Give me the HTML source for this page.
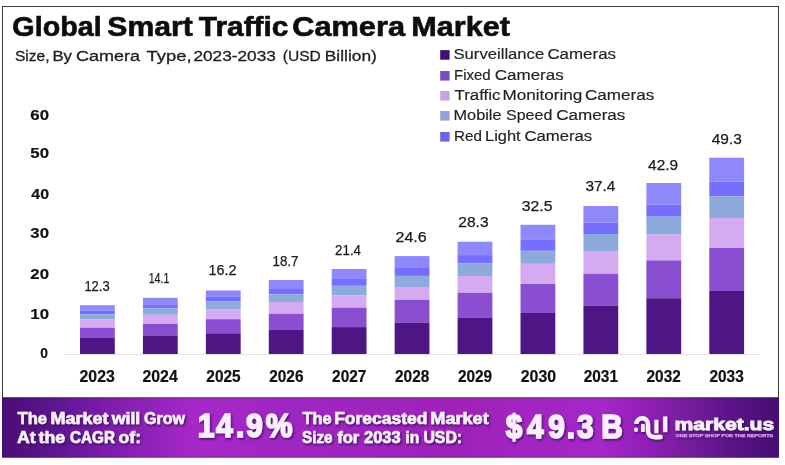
<!DOCTYPE html>
<html><head><meta charset="utf-8"><title>Global Smart Traffic Camera Market</title>
<style>
html,body{margin:0;padding:0;background:#fff;}
body{width:785px;height:465px;overflow:hidden;}
svg{display:block;}
text{font-family:"Liberation Sans", Arial, sans-serif;}
</style></head><body>
<svg width="785" height="465" viewBox="0 0 785 465">
<rect x="0" y="0" width="785" height="465" fill="#ffffff"/>
<rect x="2" y="6" width="777" height="1" fill="#3c3c3c"/>
<rect x="2" y="6" width="1" height="392" fill="#3c3c3c"/>
<rect x="778" y="6" width="1" height="392" fill="#3c3c3c"/>
<rect x="440.2" y="50.1" width="9.4" height="9.6" fill="#3d1272"/>
<rect x="440.2" y="71.0" width="9.4" height="9.6" fill="#7a4cc4"/>
<rect x="440.2" y="91.0" width="9.4" height="9.6" fill="#c4a4e4"/>
<rect x="440.2" y="111.0" width="9.4" height="9.6" fill="#92a2d8"/>
<rect x="440.2" y="132.0" width="9.4" height="9.6" fill="#6e62ec"/>
<rect x="64" y="354" width="696" height="1" fill="#e2e2e2"/>
<rect x="80.00" y="305.20" width="34.8" height="5.40" fill="#8e88fa"/>
<rect x="80.00" y="310.60" width="34.8" height="3.80" fill="#766efc"/>
<rect x="80.00" y="314.40" width="34.8" height="4.90" fill="#8eaadc"/>
<rect x="80.00" y="319.30" width="34.8" height="8.40" fill="#d4aaf0"/>
<rect x="80.00" y="327.70" width="34.8" height="10.30" fill="#8a4ed0"/>
<rect x="80.00" y="338.00" width="34.8" height="16.00" fill="#4e1684"/>
<rect x="142.93" y="297.80" width="34.8" height="6.50" fill="#8e88fa"/>
<rect x="142.93" y="304.30" width="34.8" height="4.10" fill="#766efc"/>
<rect x="142.93" y="308.40" width="34.8" height="6.40" fill="#8eaadc"/>
<rect x="142.93" y="314.80" width="34.8" height="9.10" fill="#d4aaf0"/>
<rect x="142.93" y="323.90" width="34.8" height="12.00" fill="#8a4ed0"/>
<rect x="142.93" y="335.90" width="34.8" height="18.10" fill="#4e1684"/>
<rect x="205.86" y="290.50" width="34.8" height="5.80" fill="#8e88fa"/>
<rect x="205.86" y="296.30" width="34.8" height="5.20" fill="#766efc"/>
<rect x="205.86" y="301.50" width="34.8" height="7.70" fill="#8eaadc"/>
<rect x="205.86" y="309.20" width="34.8" height="10.00" fill="#d4aaf0"/>
<rect x="205.86" y="319.20" width="34.8" height="14.10" fill="#8a4ed0"/>
<rect x="205.86" y="333.30" width="34.8" height="20.70" fill="#4e1684"/>
<rect x="268.79" y="280.00" width="34.8" height="9.00" fill="#8e88fa"/>
<rect x="268.79" y="289.00" width="34.8" height="5.40" fill="#766efc"/>
<rect x="268.79" y="294.40" width="34.8" height="7.60" fill="#8eaadc"/>
<rect x="268.79" y="302.00" width="34.8" height="11.80" fill="#d4aaf0"/>
<rect x="268.79" y="313.80" width="34.8" height="16.10" fill="#8a4ed0"/>
<rect x="268.79" y="329.90" width="34.8" height="24.10" fill="#4e1684"/>
<rect x="331.72" y="269.00" width="34.8" height="9.30" fill="#8e88fa"/>
<rect x="331.72" y="278.30" width="34.8" height="7.50" fill="#766efc"/>
<rect x="331.72" y="285.80" width="34.8" height="9.70" fill="#8eaadc"/>
<rect x="331.72" y="295.50" width="34.8" height="12.20" fill="#d4aaf0"/>
<rect x="331.72" y="307.70" width="34.8" height="19.40" fill="#8a4ed0"/>
<rect x="331.72" y="327.10" width="34.8" height="26.90" fill="#4e1684"/>
<rect x="394.65" y="256.10" width="34.8" height="11.10" fill="#8e88fa"/>
<rect x="394.65" y="267.20" width="34.8" height="8.70" fill="#766efc"/>
<rect x="394.65" y="275.90" width="34.8" height="11.10" fill="#8eaadc"/>
<rect x="394.65" y="287.00" width="34.8" height="12.80" fill="#d4aaf0"/>
<rect x="394.65" y="299.80" width="34.8" height="23.00" fill="#8a4ed0"/>
<rect x="394.65" y="322.80" width="34.8" height="31.20" fill="#4e1684"/>
<rect x="457.58" y="241.70" width="34.8" height="13.40" fill="#8e88fa"/>
<rect x="457.58" y="255.10" width="34.8" height="8.40" fill="#766efc"/>
<rect x="457.58" y="263.50" width="34.8" height="12.50" fill="#8eaadc"/>
<rect x="457.58" y="276.00" width="34.8" height="16.80" fill="#d4aaf0"/>
<rect x="457.58" y="292.80" width="34.8" height="25.10" fill="#8a4ed0"/>
<rect x="457.58" y="317.90" width="34.8" height="36.10" fill="#4e1684"/>
<rect x="520.51" y="224.80" width="34.8" height="15.10" fill="#8e88fa"/>
<rect x="520.51" y="239.90" width="34.8" height="10.90" fill="#766efc"/>
<rect x="520.51" y="250.80" width="34.8" height="13.00" fill="#8eaadc"/>
<rect x="520.51" y="263.80" width="34.8" height="20.20" fill="#d4aaf0"/>
<rect x="520.51" y="284.00" width="34.8" height="29.00" fill="#8a4ed0"/>
<rect x="520.51" y="313.00" width="34.8" height="41.00" fill="#4e1684"/>
<rect x="583.44" y="206.00" width="34.8" height="16.70" fill="#8e88fa"/>
<rect x="583.44" y="222.70" width="34.8" height="11.30" fill="#766efc"/>
<rect x="583.44" y="234.00" width="34.8" height="17.00" fill="#8eaadc"/>
<rect x="583.44" y="251.00" width="34.8" height="22.80" fill="#d4aaf0"/>
<rect x="583.44" y="273.80" width="34.8" height="32.00" fill="#8a4ed0"/>
<rect x="583.44" y="305.80" width="34.8" height="48.20" fill="#4e1684"/>
<rect x="646.37" y="183.00" width="34.8" height="21.80" fill="#8e88fa"/>
<rect x="646.37" y="204.80" width="34.8" height="11.90" fill="#766efc"/>
<rect x="646.37" y="216.70" width="34.8" height="17.90" fill="#8eaadc"/>
<rect x="646.37" y="234.60" width="34.8" height="25.80" fill="#d4aaf0"/>
<rect x="646.37" y="260.40" width="34.8" height="37.80" fill="#8a4ed0"/>
<rect x="646.37" y="298.20" width="34.8" height="55.80" fill="#4e1684"/>
<rect x="709.30" y="157.70" width="34.8" height="24.10" fill="#8e88fa"/>
<rect x="709.30" y="181.80" width="34.8" height="14.70" fill="#766efc"/>
<rect x="709.30" y="196.50" width="34.8" height="21.50" fill="#8eaadc"/>
<rect x="709.30" y="218.00" width="34.8" height="30.00" fill="#d4aaf0"/>
<rect x="709.30" y="248.00" width="34.8" height="43.00" fill="#8a4ed0"/>
<rect x="709.30" y="291.00" width="34.8" height="63.00" fill="#4e1684"/>
<text x="12.30" y="35.50" font-size="26.80" font-weight="bold" textLength="89.40" lengthAdjust="spacingAndGlyphs" fill="#0d0d0d" stroke="#0d0d0d" stroke-width="0.6">Global</text>
<text x="107.30" y="35.50" font-size="26.80" font-weight="bold" textLength="85.50" lengthAdjust="spacingAndGlyphs" fill="#0d0d0d" stroke="#0d0d0d" stroke-width="0.6">Smart</text>
<text x="198.80" y="35.50" font-size="26.80" font-weight="bold" textLength="89.70" lengthAdjust="spacingAndGlyphs" fill="#0d0d0d" stroke="#0d0d0d" stroke-width="0.6">Traffic</text>
<text x="292.30" y="35.50" font-size="26.80" font-weight="bold" textLength="112.70" lengthAdjust="spacingAndGlyphs" fill="#0d0d0d" stroke="#0d0d0d" stroke-width="0.6">Camera</text>
<text x="411.20" y="35.50" font-size="26.80" font-weight="bold" textLength="98.70" lengthAdjust="spacingAndGlyphs" fill="#0d0d0d" stroke="#0d0d0d" stroke-width="0.6">Market</text>
<text x="14.90" y="61.00" font-size="15.20" textLength="34.70" lengthAdjust="spacingAndGlyphs" fill="#1e1e1e" stroke="#1e1e1e" stroke-width="0.3">Size,</text>
<text x="52.40" y="61.00" font-size="15.20" textLength="19.60" lengthAdjust="spacingAndGlyphs" fill="#1e1e1e" stroke="#1e1e1e" stroke-width="0.3">By</text>
<text x="76.00" y="61.00" font-size="15.20" textLength="64.00" lengthAdjust="spacingAndGlyphs" fill="#1e1e1e" stroke="#1e1e1e" stroke-width="0.3">Camera</text>
<text x="146.60" y="61.00" font-size="15.20" textLength="45.00" lengthAdjust="spacingAndGlyphs" fill="#1e1e1e" stroke="#1e1e1e" stroke-width="0.3">Type,</text>
<text x="193.40" y="61.00" font-size="15.20" textLength="82.50" lengthAdjust="spacingAndGlyphs" fill="#1e1e1e" stroke="#1e1e1e" stroke-width="0.3">2023-2033</text>
<text x="282.80" y="61.00" font-size="15.20" textLength="38.00" lengthAdjust="spacingAndGlyphs" fill="#1e1e1e" stroke="#1e1e1e" stroke-width="0.3">(USD</text>
<text x="324.80" y="61.00" font-size="15.20" textLength="52.00" lengthAdjust="spacingAndGlyphs" fill="#1e1e1e" stroke="#1e1e1e" stroke-width="0.3">Billion)</text>
<text x="453.50" y="59.30" font-size="14.90" textLength="90.70" lengthAdjust="spacingAndGlyphs" fill="#222" stroke="#222" stroke-width="0.15">Surveillance</text>
<text x="547.40" y="59.30" font-size="14.90" textLength="68.60" lengthAdjust="spacingAndGlyphs" fill="#222" stroke="#222" stroke-width="0.15">Cameras</text>
<text x="454.00" y="80.20" font-size="14.90" textLength="36.70" lengthAdjust="spacingAndGlyphs" fill="#222" stroke="#222" stroke-width="0.15">Fixed</text>
<text x="494.80" y="80.20" font-size="14.90" textLength="68.90" lengthAdjust="spacingAndGlyphs" fill="#222" stroke="#222" stroke-width="0.15">Cameras</text>
<text x="454.50" y="100.20" font-size="14.90" textLength="46.00" lengthAdjust="spacingAndGlyphs" fill="#222" stroke="#222" stroke-width="0.15">Traffic</text>
<text x="502.50" y="100.20" font-size="14.90" textLength="79.90" lengthAdjust="spacingAndGlyphs" fill="#222" stroke="#222" stroke-width="0.15">Monitoring</text>
<text x="584.90" y="100.20" font-size="14.90" textLength="69.30" lengthAdjust="spacingAndGlyphs" fill="#222" stroke="#222" stroke-width="0.15">Cameras</text>
<text x="453.50" y="120.20" font-size="14.90" textLength="48.00" lengthAdjust="spacingAndGlyphs" fill="#222" stroke="#222" stroke-width="0.15">Mobile</text>
<text x="506.00" y="120.20" font-size="14.90" textLength="46.30" lengthAdjust="spacingAndGlyphs" fill="#222" stroke="#222" stroke-width="0.15">Speed</text>
<text x="556.20" y="120.20" font-size="14.90" textLength="69.20" lengthAdjust="spacingAndGlyphs" fill="#222" stroke="#222" stroke-width="0.15">Cameras</text>
<text x="454.10" y="141.20" font-size="14.90" textLength="27.90" lengthAdjust="spacingAndGlyphs" fill="#222" stroke="#222" stroke-width="0.15">Red</text>
<text x="485.10" y="141.20" font-size="14.90" textLength="35.60" lengthAdjust="spacingAndGlyphs" fill="#222" stroke="#222" stroke-width="0.15">Light</text>
<text x="524.50" y="141.20" font-size="14.90" textLength="67.70" lengthAdjust="spacingAndGlyphs" fill="#222" stroke="#222" stroke-width="0.15">Cameras</text>
<text x="30.30" y="119.70" font-size="15.40" font-weight="bold" textLength="18.70" lengthAdjust="spacingAndGlyphs" fill="#111" stroke="#111" stroke-width="0.2">60</text>
<text x="30.30" y="158.30" font-size="15.40" font-weight="bold" textLength="18.70" lengthAdjust="spacingAndGlyphs" fill="#111" stroke="#111" stroke-width="0.2">50</text>
<text x="31.30" y="198.50" font-size="15.40" font-weight="bold" textLength="17.70" lengthAdjust="spacingAndGlyphs" fill="#111" stroke="#111" stroke-width="0.2">40</text>
<text x="30.30" y="238.30" font-size="15.40" font-weight="bold" textLength="18.70" lengthAdjust="spacingAndGlyphs" fill="#111" stroke="#111" stroke-width="0.2">30</text>
<text x="30.30" y="279.20" font-size="15.40" font-weight="bold" textLength="18.70" lengthAdjust="spacingAndGlyphs" fill="#111" stroke="#111" stroke-width="0.2">20</text>
<text x="30.30" y="319.00" font-size="15.40" font-weight="bold" textLength="18.70" lengthAdjust="spacingAndGlyphs" fill="#111" stroke="#111" stroke-width="0.2">10</text>
<text x="40.30" y="357.70" font-size="15.40" font-weight="bold" textLength="7.70" lengthAdjust="spacingAndGlyphs" fill="#111" stroke="#111" stroke-width="0.2">0</text>
<text x="84.40" y="290.70" font-size="15.40" textLength="25.20" lengthAdjust="spacingAndGlyphs" fill="#1a1a1a" stroke="#1a1a1a" stroke-width="0.25">12.3</text>
<text x="148.70" y="283.40" font-size="15.40" textLength="20.70" lengthAdjust="spacingAndGlyphs" fill="#1a1a1a" stroke="#1a1a1a" stroke-width="0.25">14.1</text>
<text x="208.50" y="274.70" font-size="15.40" textLength="28.00" lengthAdjust="spacingAndGlyphs" fill="#1a1a1a" stroke="#1a1a1a" stroke-width="0.25">16.2</text>
<text x="272.50" y="265.70" font-size="15.40" textLength="26.00" lengthAdjust="spacingAndGlyphs" fill="#1a1a1a" stroke="#1a1a1a" stroke-width="0.25">18.7</text>
<text x="335.10" y="255.30" font-size="15.40" textLength="25.90" lengthAdjust="spacingAndGlyphs" fill="#1a1a1a" stroke="#1a1a1a" stroke-width="0.25">21.4</text>
<text x="395.50" y="242.00" font-size="15.40" textLength="31.20" lengthAdjust="spacingAndGlyphs" fill="#1a1a1a" stroke="#1a1a1a" stroke-width="0.25">24.6</text>
<text x="458.30" y="227.10" font-size="15.40" textLength="30.30" lengthAdjust="spacingAndGlyphs" fill="#1a1a1a" stroke="#1a1a1a" stroke-width="0.25">28.3</text>
<text x="521.80" y="210.60" font-size="15.40" textLength="30.70" lengthAdjust="spacingAndGlyphs" fill="#1a1a1a" stroke="#1a1a1a" stroke-width="0.25">32.5</text>
<text x="585.40" y="190.80" font-size="15.40" textLength="30.00" lengthAdjust="spacingAndGlyphs" fill="#1a1a1a" stroke="#1a1a1a" stroke-width="0.25">37.4</text>
<text x="648.10" y="169.60" font-size="15.40" textLength="30.00" lengthAdjust="spacingAndGlyphs" fill="#1a1a1a" stroke="#1a1a1a" stroke-width="0.25">42.9</text>
<text x="711.80" y="144.20" font-size="15.40" textLength="30.00" lengthAdjust="spacingAndGlyphs" fill="#1a1a1a" stroke="#1a1a1a" stroke-width="0.25">49.3</text>
<text x="79.55" y="381.60" font-size="15.70" font-weight="bold" textLength="35.30" lengthAdjust="spacingAndGlyphs" fill="#111" stroke="#111" stroke-width="0.2">2023</text>
<text x="142.44" y="381.60" font-size="15.70" font-weight="bold" textLength="35.30" lengthAdjust="spacingAndGlyphs" fill="#111" stroke="#111" stroke-width="0.2">2024</text>
<text x="206.33" y="381.60" font-size="15.70" font-weight="bold" textLength="34.30" lengthAdjust="spacingAndGlyphs" fill="#111" stroke="#111" stroke-width="0.2">2025</text>
<text x="269.22" y="381.60" font-size="15.70" font-weight="bold" textLength="34.30" lengthAdjust="spacingAndGlyphs" fill="#111" stroke="#111" stroke-width="0.2">2026</text>
<text x="332.11" y="381.60" font-size="15.70" font-weight="bold" textLength="34.30" lengthAdjust="spacingAndGlyphs" fill="#111" stroke="#111" stroke-width="0.2">2027</text>
<text x="395.00" y="381.60" font-size="15.70" font-weight="bold" textLength="34.30" lengthAdjust="spacingAndGlyphs" fill="#111" stroke="#111" stroke-width="0.2">2028</text>
<text x="457.89" y="381.60" font-size="15.70" font-weight="bold" textLength="34.30" lengthAdjust="spacingAndGlyphs" fill="#111" stroke="#111" stroke-width="0.2">2029</text>
<text x="520.78" y="381.60" font-size="15.70" font-weight="bold" textLength="35.30" lengthAdjust="spacingAndGlyphs" fill="#111" stroke="#111" stroke-width="0.2">2030</text>
<text x="583.67" y="381.60" font-size="15.70" font-weight="bold" textLength="34.30" lengthAdjust="spacingAndGlyphs" fill="#111" stroke="#111" stroke-width="0.2">2031</text>
<text x="646.56" y="381.60" font-size="15.70" font-weight="bold" textLength="34.30" lengthAdjust="spacingAndGlyphs" fill="#111" stroke="#111" stroke-width="0.2">2032</text>
<text x="709.45" y="381.60" font-size="15.70" font-weight="bold" textLength="34.30" lengthAdjust="spacingAndGlyphs" fill="#111" stroke="#111" stroke-width="0.2">2033</text>
<defs>
<linearGradient id="bg" x1="0" y1="0" x2="1" y2="0">
<stop offset="0" stop-color="#4a0e74"/>
<stop offset="0.06" stop-color="#5a148c"/>
<stop offset="0.13" stop-color="#7a1ca8"/>
<stop offset="0.245" stop-color="#a628c8"/>
<stop offset="0.39" stop-color="#9e26c2"/>
<stop offset="0.58" stop-color="#9e22b8"/>
<stop offset="0.77" stop-color="#a428c8"/>
<stop offset="0.82" stop-color="#9420b8"/>
<stop offset="0.885" stop-color="#741c9c"/>
<stop offset="0.94" stop-color="#5a1488"/>
<stop offset="1" stop-color="#440e70"/>
</linearGradient>
<filter id="sh" x="-10%" y="-20%" width="130%" height="160%">
<feDropShadow dx="1.1" dy="1.4" stdDeviation="0.9" flood-color="#32085a" flood-opacity="0.95"/>
</filter>
</defs>
<rect x="2" y="397.3" width="777" height="60.4" fill="url(#bg)"/>
<rect x="2" y="397.3" width="777" height="1.5" fill="#200030" fill-opacity="0.22"/>
<rect x="2" y="456.4" width="777" height="1.3" fill="#200030" fill-opacity="0.18"/>
<g filter="url(#sh)"><text x="17.60" y="423.50" font-size="16.20" font-weight="bold" textLength="29.30" lengthAdjust="spacingAndGlyphs" fill="#fbeeff" stroke="#fbeeff" stroke-width="0.55">The</text>
<text x="50.60" y="423.50" font-size="16.20" font-weight="bold" textLength="57.80" lengthAdjust="spacingAndGlyphs" fill="#fbeeff" stroke="#fbeeff" stroke-width="0.55">Market</text>
<text x="111.70" y="423.50" font-size="16.20" font-weight="bold" textLength="28.60" lengthAdjust="spacingAndGlyphs" fill="#fbeeff" stroke="#fbeeff" stroke-width="0.55">will</text>
<text x="144.00" y="423.50" font-size="16.20" font-weight="bold" textLength="40.80" lengthAdjust="spacingAndGlyphs" fill="#fbeeff" stroke="#fbeeff" stroke-width="0.55">Grow</text>
<text x="17.10" y="443.40" font-size="16.20" font-weight="bold" textLength="18.60" lengthAdjust="spacingAndGlyphs" fill="#fbeeff" stroke="#fbeeff" stroke-width="0.55">At</text>
<text x="38.60" y="443.40" font-size="16.20" font-weight="bold" textLength="26.60" lengthAdjust="spacingAndGlyphs" fill="#fbeeff" stroke="#fbeeff" stroke-width="0.55">the</text>
<text x="70.10" y="443.40" font-size="16.20" font-weight="bold" textLength="44.80" lengthAdjust="spacingAndGlyphs" fill="#fbeeff" stroke="#fbeeff" stroke-width="0.55">CAGR</text>
<text x="118.60" y="443.40" font-size="16.20" font-weight="bold" textLength="22.50" lengthAdjust="spacingAndGlyphs" fill="#fbeeff" stroke="#fbeeff" stroke-width="0.55">of:</text>
<text x="302.50" y="423.50" font-size="16.20" font-weight="bold" textLength="29.10" lengthAdjust="spacingAndGlyphs" fill="#fbeeff" stroke="#fbeeff" stroke-width="0.55">The</text>
<text x="334.20" y="423.50" font-size="16.20" font-weight="bold" textLength="93.20" lengthAdjust="spacingAndGlyphs" fill="#fbeeff" stroke="#fbeeff" stroke-width="0.55">Forecasted</text>
<text x="430.30" y="423.50" font-size="16.20" font-weight="bold" textLength="58.40" lengthAdjust="spacingAndGlyphs" fill="#fbeeff" stroke="#fbeeff" stroke-width="0.55">Market</text>
<text x="302.10" y="443.10" font-size="16.20" font-weight="bold" textLength="30.40" lengthAdjust="spacingAndGlyphs" fill="#fbeeff" stroke="#fbeeff" stroke-width="0.55">Size</text>
<text x="337.20" y="443.10" font-size="16.20" font-weight="bold" textLength="22.10" lengthAdjust="spacingAndGlyphs" fill="#fbeeff" stroke="#fbeeff" stroke-width="0.55">for</text>
<text x="364.10" y="443.10" font-size="16.20" font-weight="bold" textLength="36.40" lengthAdjust="spacingAndGlyphs" fill="#fbeeff" stroke="#fbeeff" stroke-width="0.55">2033</text>
<text x="405.30" y="443.10" font-size="16.20" font-weight="bold" textLength="13.90" lengthAdjust="spacingAndGlyphs" fill="#fbeeff" stroke="#fbeeff" stroke-width="0.55">in</text>
<text x="423.40" y="443.10" font-size="16.20" font-weight="bold" textLength="38.70" lengthAdjust="spacingAndGlyphs" fill="#fbeeff" stroke="#fbeeff" stroke-width="0.55">USD:</text>
<text x="674.50" y="429.60" font-size="17.20" font-weight="bold" textLength="99.70" lengthAdjust="spacingAndGlyphs" fill="#fbeeff" stroke="#fbeeff" stroke-width="0.8">market.us</text>
<text x="675.50" y="436.60" font-size="4.00" font-weight="bold" textLength="97.60" lengthAdjust="spacingAndGlyphs" fill="#dc98f2" stroke="#dc98f2" stroke-width="0.25">ONE STOP SHOP FOR THE REPORTS</text>
<text transform="scale(0.9,1)" x="219.83 239.89 262.11 273.22 295.28" y="436.7" font-size="33.5" font-weight="bold" fill="#fbeeff" stroke="#fbeeff" stroke-width="1.7">14.9%</text>
<text transform="scale(0.9,1)" x="561.89 585.44 609.06 629.67 641.17 660.44 667.94" y="437.8" font-size="33.0" font-weight="bold" fill="#fbeeff" stroke="#fbeeff" stroke-width="1.7">$49.3 B</text>
<path d="M636.4 422.6 V424 A5.8 5.8 0 0 1 648 424 V430.5 C648 435.5 651.5 437.2 655.5 437.2 L660.6 437" fill="none" stroke="#fbeeff" stroke-linecap="round" stroke-width="4.4"/>
<rect x="634.1" y="427.7" width="3.8" height="4.1" rx="1.2" fill="#fbeeff"/>
<rect x="641" y="424" width="3.7" height="8" fill="#fbeeff"/>
<rect x="654.4" y="419.8" width="4" height="13.4" fill="#fbeeff"/>
<rect x="663.1" y="416.4" width="4.2" height="15.7" fill="#fbeeff"/></g>
</svg>
</body></html>
